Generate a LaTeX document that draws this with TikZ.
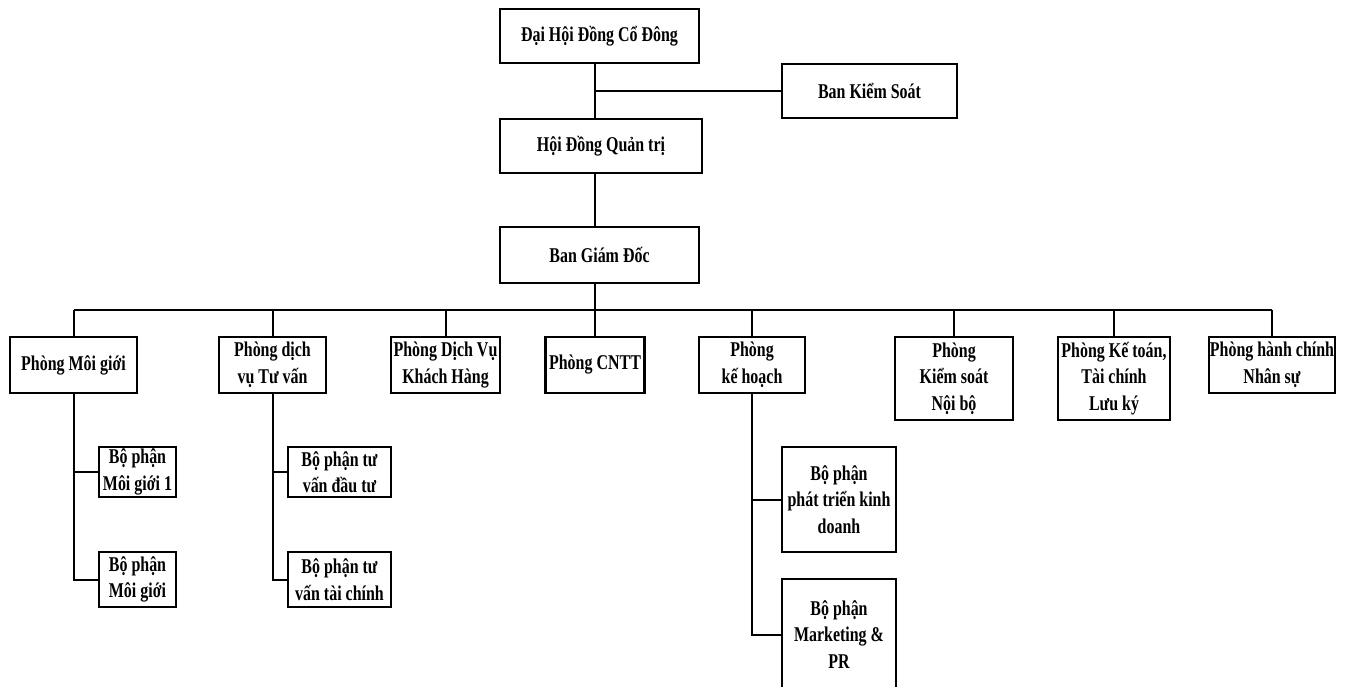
\documentclass[tikz,border=0pt]{standalone}
\usepackage{fontspec}
\setmainfont{Liberation Serif}[FakeStretch=0.76]

\begin{document}
\begin{tikzpicture}[x=1pt,y=-1pt,
	box/.style={draw, line width=2.4pt, align=center, inner sep=0pt, font=\bfseries\fontsize{21}{26.5}\selectfont},
	wh/.style 2 args={minimum width=#1pt, minimum height=#2pt},
	link/.style={line width=2pt}]
	\useasboundingbox (0,0) rectangle (1346,687);
	\clip (0,0) rectangle (1346,687);
	% top of the chart
	\node[box, wh={199}{54}] (dhdcd) at (599.5,36) {Đại Hội Đồng Cổ Đông};
	\node[box, wh={175}{54}] (bks) at (869.5,91) {Ban Kiểm Soát};
	\node[box, wh={202}{54}] (hdqt) at (601,146) {Hội Đồng Quản trị};
	\node[box, wh={199}{56}] (bgd) at (599.5,255) {Ban Giám Đốc};
	\coordinate (spine) at (595,0);
	\coordinate (bus) at (0,310);
	\draw[link] (dhdcd.south -| spine) -- (hdqt.north -| spine);
	\draw[link] (spine |- bks.west) -- (bks.west);
	\draw[link] (hdqt.south -| spine) -- (bgd.north -| spine);
	\draw[link] (bgd.south -| spine) -- (bus -| spine);
	% departments
	\node[box, wh={127}{56}] (pmg) at (73.5,365) {Phòng Môi giới};
	\node[box, wh={107}{56}] (pdvtv) at (272.5,365) {Phòng dịch\\vụ Tư vấn};
	\node[box, wh={109}{56}] (pdvkh) at (445.5,365) {Phòng Dịch Vụ\\Khách Hàng};
	\node[box, wh={99}{56}] (pcntt) at (595,365) {Phòng CNTT};
	\node[box, wh={106}{56}] (pkh) at (752,365) {Phòng\\kế hoạch};
	\node[box, wh={118}{83}] (pks) at (954,378.5) {Phòng\\Kiểm soát\\Nội bộ};
	\node[box, wh={112}{83}] (pkt) at (1114,378.5) {Phòng Kế toán,\\Tài chính\\Lưu ký};
	\node[box, wh={126}{56}] (phc) at (1272,365) {Phòng hành chính\\Nhân sự};
	\draw[link] (pmg.north |- bus) -- (phc.north |- bus);
	\foreach \dept in {pmg,pdvtv,pdvkh,pcntt,pkh,pks,pkt,phc}
		\draw[link] (\dept.north) -- (\dept.north |- bus);
	% sections
	\node[box, wh={77}{50}] (bpmg1) at (137.5,472) {Bộ phận\\Môi giới 1};
	\node[box, wh={77}{55}] (bpmg2) at (137.5,579.5) {Bộ phận\\Môi giới};
	\node[box, wh={103}{50}] (bptv1) at (339.5,472) {Bộ phận tư\\vấn đầu tư};
	\node[box, wh={103}{55}] (bptv2) at (339.5,579.5) {Bộ phận tư\\vấn tài chính};
	\node[box, wh={114}{105}] (bppt) at (839,499.5) {Bộ phận\\phát triển kinh\\doanh};
	\node[box, wh={114}{111}] (bpmk) at (839,634.5) {Bộ phận\\Marketing \&\\PR};
	\draw[link] (pmg.south) |- (bpmg2.west);
	\draw[link] (pmg.south |- bpmg1.west) -- (bpmg1.west);
	\draw[link] (pdvtv.south) |- (bptv2.west);
	\draw[link] (pdvtv.south |- bptv1.west) -- (bptv1.west);
	\draw[link] (pkh.south) |- (bpmk.west);
	\draw[link] (pkh.south |- bppt.west) -- (bppt.west);
\end{tikzpicture}
\end{document}
